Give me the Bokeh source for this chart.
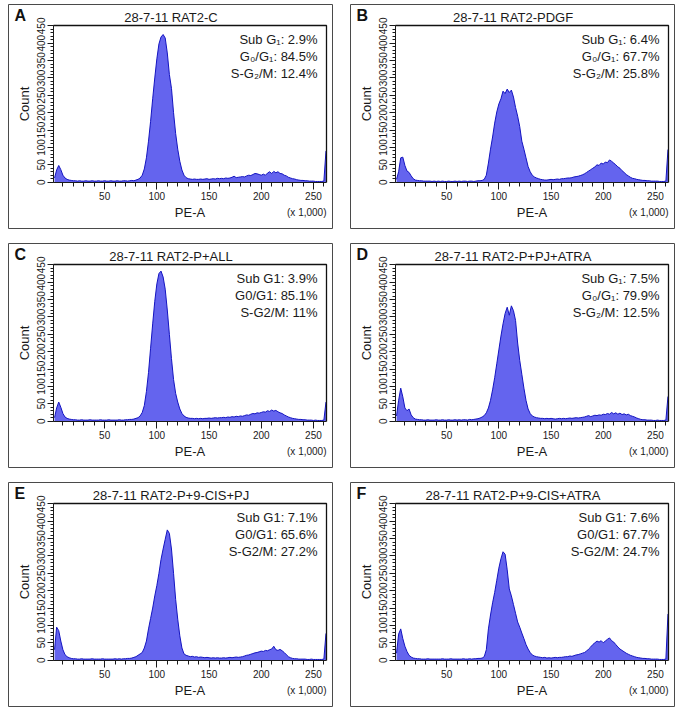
from bokeh.plotting import figure
from bokeh.models import FixedTicker, Label
from bokeh.layouts import column, row
from bokeh.embed import file_html
from bokeh.resources import INLINE

# ---------------- data ----------------
pe_a = list(range(2, 264, 2))  # PE-A channel (x 1,000), 2..262

counts_A = [12, 35, 48, 36, 20, 12, 8, 6, 5, 4,
            4, 3, 4, 3, 3, 4, 3, 3, 4, 3,
            3, 4, 3, 3, 4, 3, 3, 4, 3, 3,
            4, 3, 3, 4, 4, 3, 4, 5, 4, 6,
            8, 12, 20, 38, 70, 118, 175, 240, 300, 355,
            398, 418, 425, 415, 372, 310, 270, 200, 140, 95,
            60, 35, 20, 13, 10, 9, 8, 9, 8, 8,
            9, 8, 9, 10, 8, 9, 10, 9, 11, 10,
            11, 10, 12, 11, 12, 14, 17, 13, 14, 15,
            16, 15, 18, 20, 19, 22, 25, 24, 22, 20,
            23, 20, 26, 30, 25, 31, 27, 30, 25, 24,
            20, 18, 14, 12, 10, 9, 7, 6, 5, 5,
            4, 4, 3, 3, 3, 2, 2, 2, 2, 3,
            90]

counts_B = [8, 30, 70, 72, 48, 32, 28, 18, 10, 6,
            5, 4, 4, 3, 3, 3, 3, 2, 3, 2,
            3, 2, 3, 2, 2, 3, 2, 2, 3, 2,
            3, 2, 3, 3, 2, 3, 3, 2, 3, 4,
            4, 5, 8, 20, 55, 95, 130, 170, 202, 225,
            240, 262, 255, 268, 258, 265, 245, 215, 190, 160,
            118, 95, 70, 45, 30, 20, 15, 12, 10, 8,
            7, 6, 6, 7, 8, 7, 8, 9, 8, 10,
            10, 11, 12, 12, 13, 15, 16, 17, 19, 21,
            24, 28, 32, 36, 40, 44, 50, 48, 55, 52,
            58, 56, 64, 60, 55, 50, 44, 40, 33, 28,
            22, 18, 14, 11, 10, 8, 7, 6, 5, 5,
            4, 4, 3, 3, 3, 3, 2, 2, 2, 3,
            94]

counts_C = [10, 38, 55, 40, 22, 12, 8, 6, 5, 4,
            4, 3, 3, 4, 3, 3, 3, 4, 3, 3,
            3, 3, 4, 3, 3, 3, 4, 3, 3, 3,
            3, 4, 3, 3, 4, 4, 5, 5, 6, 8,
            10, 15, 25, 45, 85, 140, 210, 280, 345, 395,
            425, 432, 415, 380, 320, 250, 180, 120, 80, 55,
            35, 22, 15, 11, 9, 8, 8, 7, 8, 7,
            8, 7, 8, 8, 9, 8, 9, 10, 9, 10,
            10, 11, 10, 12, 11, 13, 12, 14, 13, 15,
            14, 16, 18, 17, 20, 22, 21, 24, 23, 25,
            27, 26, 30, 28, 32, 29, 31, 27, 24, 22,
            18, 15, 12, 10, 8, 7, 6, 5, 5, 4,
            4, 3, 3, 3, 2, 3, 2, 2, 2, 3,
            55]

counts_D = [15, 60, 95, 70, 38, 30, 35, 18, 10, 6,
            5, 4, 4, 3, 3, 4, 3, 3, 3, 4,
            3, 3, 4, 3, 3, 4, 3, 3, 4, 3,
            4, 3, 4, 4, 3, 5, 4, 5, 6, 7,
            9, 12, 16, 24, 38, 60, 90, 125, 165, 205,
            245, 280, 310, 328, 305, 332, 318, 290, 225, 175,
            135, 95, 60, 35, 22, 15, 12, 10, 9, 8,
            8, 7, 8, 7, 8, 7, 6, 7, 8, 7,
            8, 7, 8, 9, 8, 9, 10, 9, 10, 11,
            12, 14, 16, 13, 15, 17, 16, 18, 17, 20,
            19, 22, 20, 25, 21, 24, 20, 23, 19, 21,
            18, 20, 16, 14, 12, 9, 7, 5, 4, 4,
            3, 3, 3, 2, 2, 3, 2, 2, 2, 3,
            71]

counts_E = [30, 95, 85, 55, 30, 16, 10, 7, 5, 4,
            4, 3, 3, 4, 3, 3, 3, 3, 4, 3,
            3, 3, 3, 4, 3, 3, 3, 3, 3, 4,
            3, 4, 3, 4, 4, 5, 5, 6, 8, 10,
            14, 18, 22, 35, 55, 90, 120, 150, 185, 215,
            250, 290, 320, 348, 375, 365, 320, 250, 175, 118,
            70, 35, 18, 14, 12, 10, 11, 9, 10, 8,
            9, 8, 7, 8, 7, 6, 7, 6, 7, 6,
            6, 7, 6, 7, 8, 7, 8, 9, 8, 9,
            10, 12, 14, 15, 17, 19, 21, 22, 24, 26,
            25, 28, 27, 30, 32, 40, 30, 28, 31, 27,
            22, 16, 10, 7, 5, 4, 4, 3, 3, 3,
            3, 2, 2, 3, 2, 2, 2, 2, 2, 3,
            77]

counts_F = [20, 75, 90, 62, 40, 25, 14, 9, 6, 5,
            4, 4, 3, 3, 3, 4, 3, 3, 3, 3,
            3, 3, 4, 3, 3, 3, 4, 3, 3, 3,
            3, 3, 4, 3, 3, 4, 3, 4, 4, 5,
            5, 6, 10, 30, 90, 130, 165, 195, 230, 265,
            292, 312, 305, 260, 205, 185, 160, 135, 110, 95,
            78, 62, 45, 32, 22, 15, 12, 10, 9, 8,
            7, 8, 6, 7, 6, 7, 8, 7, 8, 8,
            9, 10, 10, 12, 11, 13, 15, 16, 18, 20,
            22, 26, 32, 38, 45, 50, 55, 52, 56, 50,
            55, 60, 64, 56, 52, 45, 38, 32, 28, 24,
            20, 17, 14, 12, 10, 8, 7, 6, 5, 5,
            4, 4, 3, 3, 3, 3, 2, 2, 2, 3,
            133]

letters = ["A", "B", "C", "D", "E", "F"]
titles = ["28-7-11 RAT2-C", "28-7-11 RAT2-PDGF", "28-7-11 RAT2-P+ALL",
          "28-7-11 RAT2-P+PJ+ATRA", "28-7-11 RAT2-P+9-CIS+PJ", "28-7-11 RAT2-P+9-CIS+ATRA"]
stats = [
    ["Sub G\u2081: 2.9%", "G\u2080/G\u2081: 84.5%", "S-G\u2082/M: 12.4%"],
    ["Sub G\u2081: 6.4%", "G\u2080/G\u2081: 67.7%", "S-G\u2082/M: 25.8%"],
    ["Sub G1: 3.9%", "G0/G1: 85.1%", "S-G2/M: 11%"],
    ["Sub G\u2081: 7.5%", "G\u2080/G\u2081: 79.9%", "S-G\u2082/M: 12.5%"],
    ["Sub G1: 7.1%", "G0/G1: 65.6%", "S-G2/M: 27.2%"],
    ["Sub G1: 7.6%", "G0/G1: 67.7%", "S-G2/M: 24.7%"],
]
all_counts = [counts_A, counts_B, counts_C, counts_D, counts_E, counts_F]

x_major = [50, 100, 150, 200, 250]
x_minor = list(range(10, 270, 10))
y_major = [0, 50, 100, 150, 200, 250, 300, 350, 400, 450]
y_minor = list(range(0, 460, 10))

# ---------------- layout constants ----------------
W, H = 325, 225                 # panel (box) size in px
PL, PR, PT, PB = 45, 318, 21, 178   # inner plotting box, px from panel top-left
X0, X1 = 1.0, 262.5             # data extent of inner box
Y0, Y1 = -1.0, 451.0
KX = (X1 - X0) / (PR - PL)      # data units per px
KY = (Y1 - Y0) / (PB - PT)
XS, XE = X0 - PL * KX, X1 + (W - PR) * KX
YS, YE = Y0 - (H - PB) * KY, Y1 + PT * KY
FONT = "Liberation Sans"
FILL = "#6464ee"
EDGE = "#1414c0"
INK = "#1a1a1a"


def dx(px):
    return XS + px * KX


def dy(py):
    return YE - py * KY


def make_panel(i):
    p = figure(width=W, height=H, output_backend="svg", toolbar_location=None,
               x_range=(XS, XE), y_range=(YS, YE),
               min_border_left=0, min_border_right=0,
               min_border_top=0, min_border_bottom=0,
               background_fill_color="white", border_fill_color="white")
    p.xgrid.visible = False
    p.ygrid.visible = False
    p.outline_line_color = "#4a4a4a"   # panel box
    p.outline_line_width = 1

    p.varea(x=pe_a, y1=0, y2=all_counts[i], fill_color=FILL)
    p.line(x=pe_a, y=all_counts[i], line_color=EDGE, line_width=1)

    # inner plotting box (the axes' frame): top edge and right edge
    p.line(x=[X0, X1, X1], y=[Y1, Y1, Y0], line_color="#111111", line_width=1.3)

    # x axis
    xa = p.xaxis[0]
    xa.fixed_location = Y0
    xa.bounds = (X0, X1)
    xa.ticker = FixedTicker(ticks=x_major, minor_ticks=x_minor)
    xa.axis_label = "PE-A"
    xa.axis_label_text_font = FONT
    xa.axis_label_text_font_style = "normal"
    xa.axis_label_text_font_size = "13px"
    xa.axis_label_text_color = INK
    xa.axis_label_standoff = 2
    xa.major_label_text_font = FONT
    xa.major_label_text_font_size = "10px"
    xa.major_label_text_color = INK
    xa.major_label_standoff = 2
    xa.major_tick_out = 7
    xa.major_tick_in = 0
    xa.minor_tick_out = 4
    xa.minor_tick_in = 0
    xa.axis_line_color = INK
    xa.major_tick_line_color = INK
    xa.minor_tick_line_color = INK

    # y axis
    ya = p.yaxis[0]
    ya.fixed_location = X0
    ya.bounds = (Y0, Y1)
    ya.ticker = FixedTicker(ticks=y_major, minor_ticks=y_minor)
    ya.axis_label = "Count"
    ya.axis_label_text_font = FONT
    ya.axis_label_text_font_style = "normal"
    ya.axis_label_text_font_size = "13px"
    ya.axis_label_text_color = INK
    ya.axis_label_standoff = 3
    ya.major_label_orientation = "vertical"
    ya.major_label_text_font = FONT
    ya.major_label_text_font_size = "10px"
    ya.major_label_text_color = INK
    ya.major_label_standoff = 2
    ya.major_tick_out = 6
    ya.major_tick_in = 0
    ya.minor_tick_out = 3
    ya.minor_tick_in = 0
    ya.axis_line_color = INK
    ya.major_tick_line_color = INK
    ya.minor_tick_line_color = INK

    # panel letter
    p.add_layout(Label(x=dx(6), y=dy(11), text=letters[i], text_font=FONT,
                       text_font_style="bold", text_font_size="16px",
                       text_color="#111111", text_align="left", text_baseline="middle"))
    # title centred on the panel
    p.add_layout(Label(x=dx(W / 2), y=dy(13), text=titles[i], text_font=FONT,
                       text_font_size="13px", text_color=INK,
                       text_align="center", text_baseline="middle"))
    # statistics
    for k, s in enumerate(stats[i]):
        p.add_layout(Label(x=dx(309), y=dy(35 + 17 * k), text=s, text_font=FONT,
                           text_font_size="13px", text_color=INK,
                           text_align="right", text_baseline="middle"))
    # scale note
    p.add_layout(Label(x=dx(318), y=dy(208), text="(x 1,000)", text_font=FONT,
                       text_font_size="10px", text_color=INK,
                       text_align="right", text_baseline="middle"))
    return p


panels = [make_panel(i) for i in range(6)]
layout = column(row(panels[0], panels[1], spacing=17),
                row(panels[2], panels[3], spacing=17),
                row(panels[4], panels[5], spacing=17),
                spacing=14, margin=(4, 0, 0, 8))

open("out.html", "w").write(file_html(layout, INLINE))
